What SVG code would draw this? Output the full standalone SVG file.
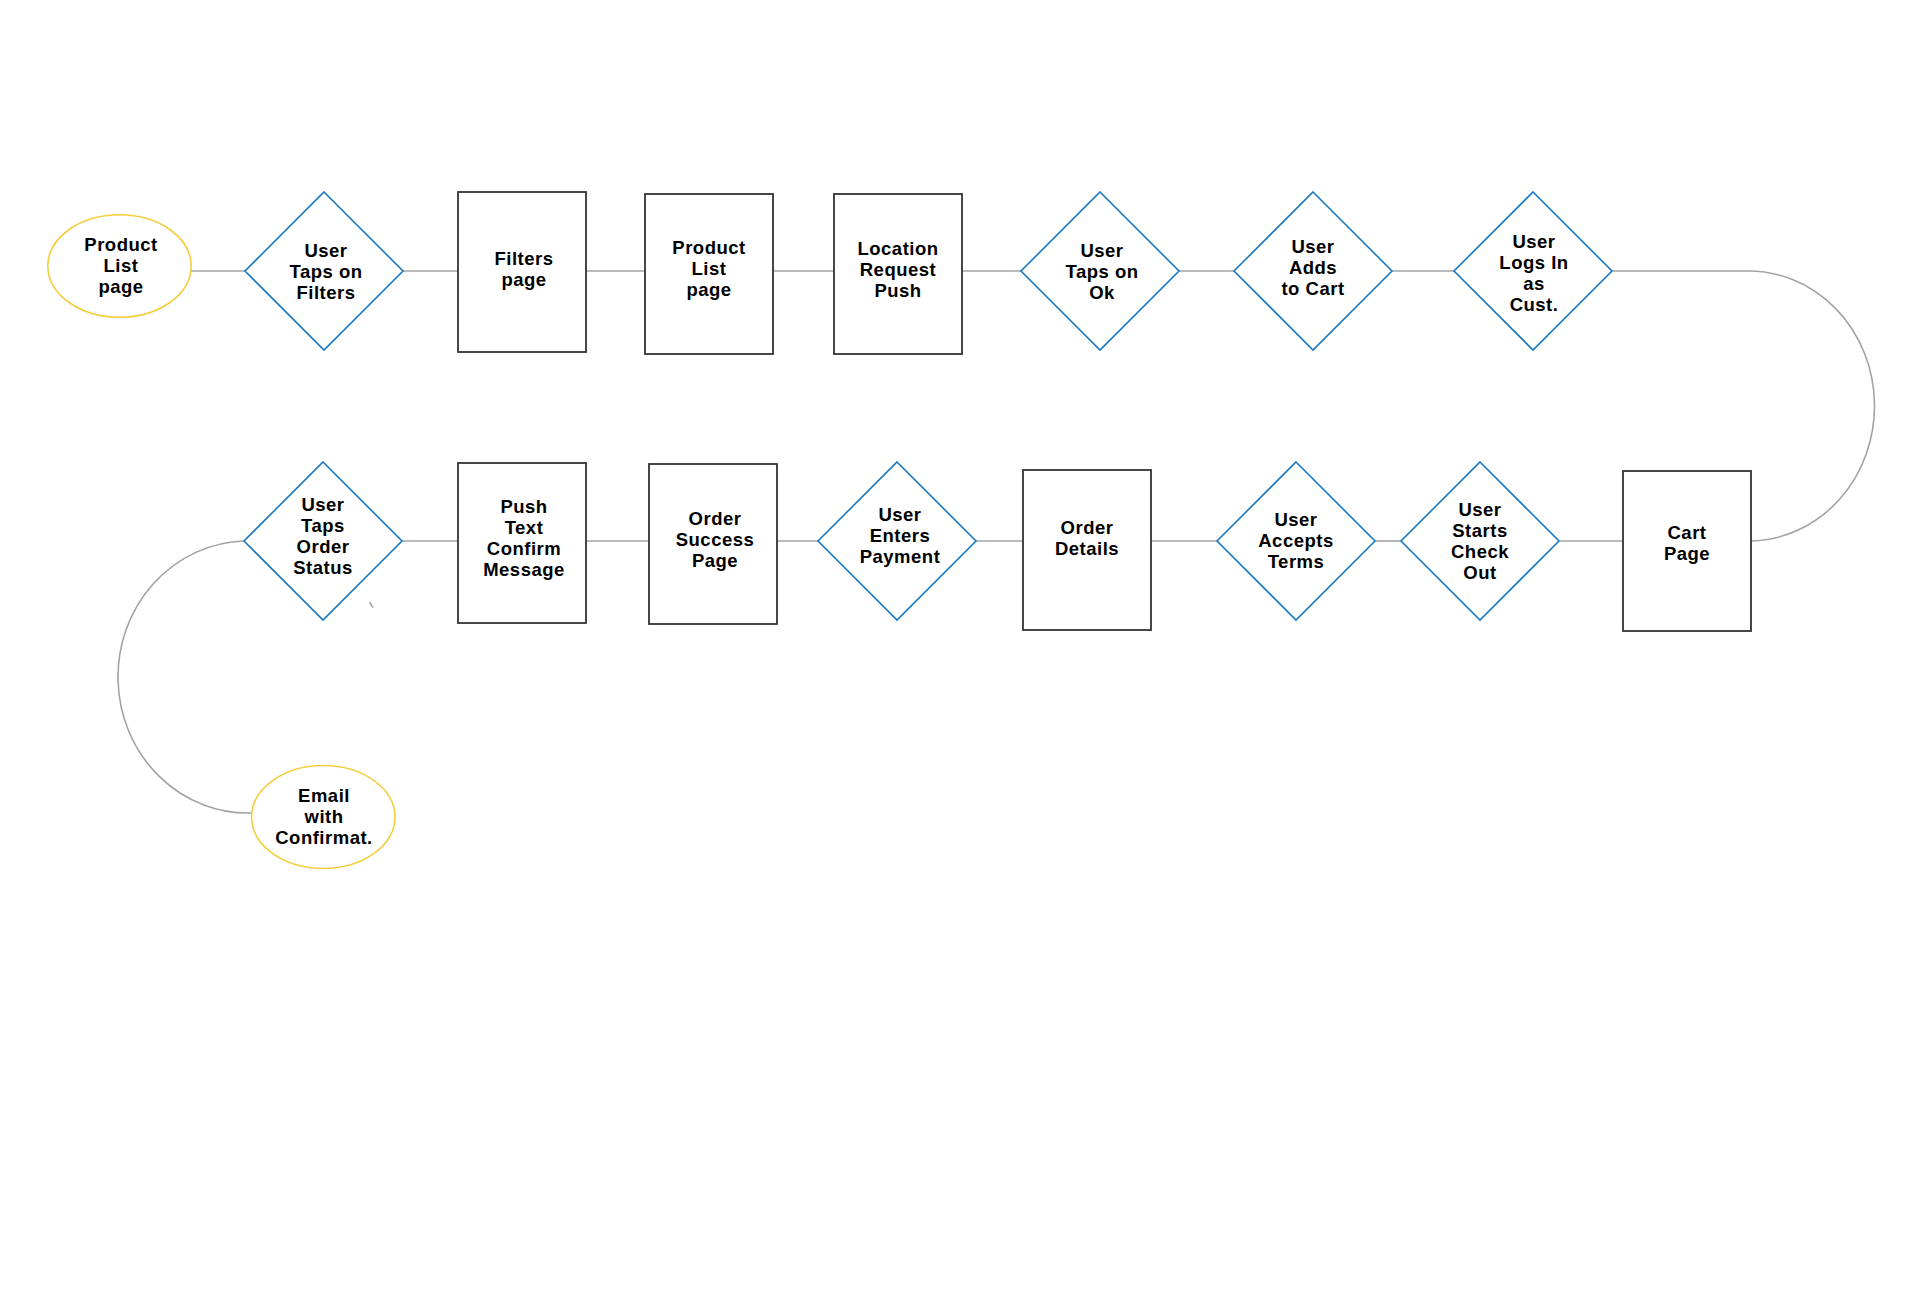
<svg xmlns="http://www.w3.org/2000/svg" width="1920" height="1311" viewBox="0 0 1920 1311">
<style>
.bg{fill:#ffffff}
.con{fill:none;stroke:#a3a3a3;stroke-width:1.6}
.rect{fill:#ffffff;stroke:#333333;stroke-width:1.8}
.dia{fill:#ffffff;stroke:#1b79c4;stroke-width:1.6}
.ell{fill:#ffffff;stroke:#f6cd3c;stroke-width:1.6}
.t{font-family:"Liberation Sans",Arial,sans-serif;font-weight:bold;font-size:18.5px;letter-spacing:0.5px;fill:#000000;text-anchor:middle}
</style>
<rect class="bg" x="0" y="0" width="1920" height="1311"/>
<g id="connectors">
<line class="con" x1="191" y1="271" x2="245" y2="271"/>
<line class="con" x1="403" y1="271" x2="458" y2="271"/>
<line class="con" x1="586" y1="271" x2="645" y2="271"/>
<line class="con" x1="773" y1="271" x2="834" y2="271"/>
<line class="con" x1="962" y1="271" x2="1021" y2="271"/>
<line class="con" x1="1179" y1="271" x2="1234" y2="271"/>
<line class="con" x1="1392" y1="271" x2="1454" y2="271"/>
<path class="con" d="M1612,271 H1746 A126,135 0 0 1 1751,541"/>
<line class="con" x1="1623" y1="541" x2="1559" y2="541"/>
<line class="con" x1="1401" y1="541" x2="1375" y2="541"/>
<line class="con" x1="1217" y1="541" x2="1151" y2="541"/>
<line class="con" x1="1023" y1="541" x2="976" y2="541"/>
<line class="con" x1="818" y1="541" x2="777" y2="541"/>
<line class="con" x1="649" y1="541" x2="586" y2="541"/>
<line class="con" x1="458" y1="541" x2="402" y2="541"/>
<path class="con" d="M244,541 A130,136 0 0 0 252,813"/>
<line class="con" x1="369.5" y1="602" x2="373" y2="607.5" stroke-width="1.2"/>
</g>
<g id="n-product-list-start">
<ellipse class="ell" cx="119.5" cy="266" rx="71.7" ry="51.3"/>
<text class="t" x="121" y="251">Product</text>
<text class="t" x="121" y="272">List</text>
<text class="t" x="121" y="293">page</text>
</g>
<g id="n-taps-filters">
<polygon class="dia" points="324,192 403,271 324,350 245,271"/>
<text class="t" x="326" y="257">User</text>
<text class="t" x="326" y="278">Taps on</text>
<text class="t" x="326" y="299">Filters</text>
</g>
<g id="n-filters-page">
<rect class="rect" x="458" y="192" width="128" height="160"/>
<text class="t" x="524" y="265">Filters</text>
<text class="t" x="524" y="286">page</text>
</g>
<g id="n-product-list-page">
<rect class="rect" x="645" y="194" width="128" height="160"/>
<text class="t" x="709" y="254">Product</text>
<text class="t" x="709" y="275">List</text>
<text class="t" x="709" y="296">page</text>
</g>
<g id="n-location-push">
<rect class="rect" x="834" y="194" width="128" height="160"/>
<text class="t" x="898" y="255">Location</text>
<text class="t" x="898" y="276">Request</text>
<text class="t" x="898" y="297">Push</text>
</g>
<g id="n-taps-ok">
<polygon class="dia" points="1100,192 1179,271 1100,350 1021,271"/>
<text class="t" x="1102" y="257">User</text>
<text class="t" x="1102" y="278">Taps on</text>
<text class="t" x="1102" y="299">Ok</text>
</g>
<g id="n-adds-cart">
<polygon class="dia" points="1313,192 1392,271 1313,350 1234,271"/>
<text class="t" x="1313" y="253">User</text>
<text class="t" x="1313" y="274">Adds</text>
<text class="t" x="1313" y="295">to Cart</text>
</g>
<g id="n-logs-in">
<polygon class="dia" points="1533,192 1612,271 1533,350 1454,271"/>
<text class="t" x="1534" y="248">User</text>
<text class="t" x="1534" y="269">Logs In</text>
<text class="t" x="1534" y="290">as</text>
<text class="t" x="1534" y="311">Cust.</text>
</g>
<g id="n-cart-page">
<rect class="rect" x="1623" y="471" width="128" height="160"/>
<text class="t" x="1687" y="539">Cart</text>
<text class="t" x="1687" y="560">Page</text>
</g>
<g id="n-starts-checkout">
<polygon class="dia" points="1480,462 1559,541 1480,620 1401,541"/>
<text class="t" x="1480" y="516">User</text>
<text class="t" x="1480" y="537">Starts</text>
<text class="t" x="1480" y="558">Check</text>
<text class="t" x="1480" y="579">Out</text>
</g>
<g id="n-accepts-terms">
<polygon class="dia" points="1296,462 1375,541 1296,620 1217,541"/>
<text class="t" x="1296" y="526">User</text>
<text class="t" x="1296" y="547">Accepts</text>
<text class="t" x="1296" y="568">Terms</text>
</g>
<g id="n-order-details">
<rect class="rect" x="1023" y="470" width="128" height="160"/>
<text class="t" x="1087" y="534">Order</text>
<text class="t" x="1087" y="555">Details</text>
</g>
<g id="n-enters-payment">
<polygon class="dia" points="897,462 976,541 897,620 818,541"/>
<text class="t" x="900" y="521">User</text>
<text class="t" x="900" y="542">Enters</text>
<text class="t" x="900" y="563">Payment</text>
</g>
<g id="n-order-success">
<rect class="rect" x="649" y="464" width="128" height="160"/>
<text class="t" x="715" y="525">Order</text>
<text class="t" x="715" y="546">Success</text>
<text class="t" x="715" y="567">Page</text>
</g>
<g id="n-push-confirm">
<rect class="rect" x="458" y="463" width="128" height="160"/>
<text class="t" x="524" y="513">Push</text>
<text class="t" x="524" y="534">Text</text>
<text class="t" x="524" y="555">Confirm</text>
<text class="t" x="524" y="576">Message</text>
</g>
<g id="n-taps-order-status">
<polygon class="dia" points="323,462 402,541 323,620 244,541"/>
<text class="t" x="323" y="511">User</text>
<text class="t" x="323" y="532">Taps</text>
<text class="t" x="323" y="553">Order</text>
<text class="t" x="323" y="574">Status</text>
</g>
<g id="n-email-confirm">
<ellipse class="ell" cx="323.3" cy="817" rx="71.7" ry="51.5"/>
<text class="t" x="324" y="802">Email</text>
<text class="t" x="324" y="823">with</text>
<text class="t" x="324" y="844">Confirmat.</text>
</g>
</svg>
